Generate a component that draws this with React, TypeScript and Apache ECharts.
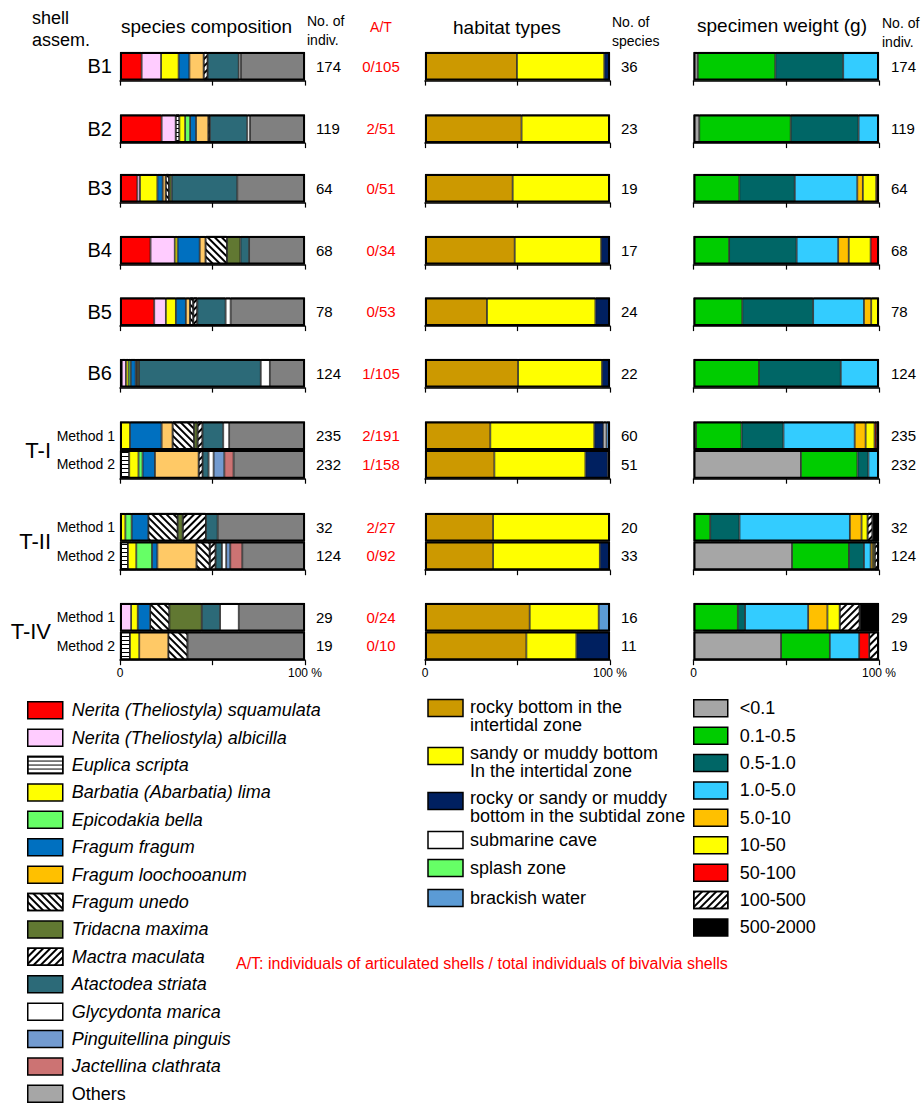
import { useEffect, useRef } from "react";
import * as echarts from "echarts";

// ---------------- rows ----------------
const rowLabels = ["B1", "B2", "B3", "B4", "B5", "B6", "Method 1", "Method 2", "Method 1", "Method 2", "Method 1", "Method 2"];
const groupRows = [[0], [1], [2], [3], [4], [5], [6, 7], [8, 9], [10, 11]];
const groupLabels = ["", "", "", "", "", "", "T-I", "T-II", "T-IV"];
const individuals = [174, 119, 64, 68, 78, 124, 235, 232, 32, 124, 29, 19];
const articulatedTotal = ["0/105", "2/51", "0/51", "0/34", "0/53", "1/105", "2/191", "1/158", "2/27", "0/92", "0/24", "0/10"];
const speciesCount = [36, 23, 19, 17, 24, 22, 60, 51, 20, 33, 16, 11];
const weightIndividuals = [174, 119, 64, 68, 78, 124, 235, 232, 32, 124, 29, 19];
const percentTicks = ["0", "", "100 %"];

// ---------------- species composition (%) ----------------
const neritaSquamulata = [11.7, 22.5, 9.4, 16.5, 18.5, 1.0, 0, 0, 0, 0, 0, 0];
const neritaAlbicilla = [10.5, 7.6, 1.4, 13.1, 6.3, 2.2, 0, 0, 0, 0, 6.0, 0];
const euplicaScripta = [0, 2.0, 0, 0, 0, 0, 0, 5.0, 0, 4.3, 0, 5.4];
const barbatiaLima = [9.5, 3.1, 9.4, 1.5, 5.4, 1.4, 5.4, 5.0, 2.9, 4.5, 3.6, 5.0];
const epicodakiaBella = [0, 2.7, 0, 0, 0, 1.2, 0, 2.2, 3.4, 8.5, 0, 0];
const fragumFragum = [5.8, 3.2, 2.9, 12.0, 5.4, 2.7, 17.1, 6.7, 9.0, 2.9, 6.7, 0];
const fragumLoochooanum = [7.7, 6.6, 1.6, 3.1, 2.2, 0.7, 5.9, 23.6, 0, 21.1, 0, 15.7];
const fragumUnedo = [0, 0, 1.8, 11.7, 1.8, 0, 11.7, 0, 15.9, 7.2, 10.4, 10.4];
const tridacnaMaxima = [0, 0, 1.4, 7.2, 0, 1.1, 1.8, 0, 2.7, 0, 17.5, 0];
const mactraMaculata = [2.2, 0.9, 0, 0, 2.2, 0, 2.7, 2.2, 12.6, 3.2, 0, 0];
const atactodeaStriata = [16.8, 20.2, 35.5, 4.7, 15.3, 65.8, 11.2, 3.2, 6.3, 3.4, 9.9, 0];
const glycydontaMarica = [1.2, 1.5, 0, 0, 2.7, 4.9, 3.2, 2.7, 0, 2.3, 10.1, 0];
const pinguitellinaPinguis = [0, 0, 0, 0, 0, 0, 0, 5.8, 0, 2.2, 0, 0];
const jactellinaClathrata = [0, 0, 0, 0, 0, 0, 0, 5.0, 0, 6.5, 0, 0];
const otherSpecies = [34.6, 29.7, 36.6, 30.2, 40.2, 19.0, 41.0, 38.6, 47.2, 33.9, 35.8, 63.5];

const speciesNames = [
  "Nerita (Theliostyla) squamulata",
  "Nerita (Theliostyla) albicilla",
  "Euplica scripta",
  "Barbatia (Abarbatia) lima",
  "Epicodakia bella",
  "Fragum fragum",
  "Fragum loochooanum",
  "Fragum unedo",
  "Tridacna maxima",
  "Mactra maculata",
  "Atactodea striata",
  "Glycydonta marica",
  "Pinguitellina pinguis",
  "Jactellina clathrata",
  "Others",
];
const speciesValues = [
  neritaSquamulata, neritaAlbicilla, euplicaScripta, barbatiaLima, epicodakiaBella,
  fragumFragum, fragumLoochooanum, fragumUnedo, tridacnaMaxima, mactraMaculata,
  atactodeaStriata, glycydontaMarica, pinguitellinaPinguis, jactellinaClathrata, otherSpecies,
];

// ---------------- habitat types (%) ----------------
const rockyIntertidal = [49.7, 52.2, 47.4, 48.5, 33.5, 50.3, 35.3, 37.5, 36.8, 36.8, 56.6, 54.8];
const sandyIntertidal = [47.2, 47.8, 52.6, 46.7, 58.6, 45.4, 56.2, 49.2, 63.2, 57.7, 37.3, 27.0];
const subtidal = [3.1, 0, 0, 4.8, 7.9, 4.3, 5.0, 12.1, 0, 5.5, 0, 18.2];
const submarineCave = [0, 0, 0, 0, 0, 0, 1.5, 0, 0, 0, 0, 0];
const splashZone = [0, 0, 0, 0, 0, 0, 0, 1.2, 0, 0, 0, 0];
const brackishWater = [0, 0, 0, 0, 0, 0, 2.0, 0, 0, 0, 6.1, 0];

const habitatNames = [
  "rocky bottom in the intertidal zone",
  "sandy or muddy bottom In the intertidal zone",
  "rocky or sandy or muddy bottom in the subtidal zone",
  "submarine cave",
  "splash zone",
  "brackish water",
];
const habitatLegendLines = [
  "rocky bottom in the\nintertidal zone",
  "sandy or muddy bottom\nIn the intertidal zone",
  "rocky or sandy or muddy\nbottom in the subtidal zone",
  "submarine cave",
  "splash zone",
  "brackish water",
];
const habitatValues = [rockyIntertidal, sandyIntertidal, subtidal, submarineCave, splashZone, brackishWater];

// ---------------- specimen weight (%) ----------------
const wLt01 = [2.3, 3.1, 0, 0, 0, 0, 1.4, 57.9, 0, 53.1, 0, 47.2];
const w01to05 = [41.8, 49.3, 24.7, 19.2, 26.3, 35.3, 24.5, 30.5, 9.0, 30.7, 23.9, 26.3];
const w05to10 = [36.6, 36.6, 29.9, 36.4, 38.2, 44.1, 22.6, 5.9, 15.8, 8.1, 3.9, 0];
const w10to50 = [19.3, 11.0, 33.7, 22.4, 27.4, 20.6, 38.4, 5.7, 59.5, 3.6, 34.0, 15.8];
const w50to10 = [0, 0, 3.0, 5.7, 3.9, 0, 5.9, 0, 6.3, 1.3, 10.4, 0];
const w10to50g = [0, 0, 7.2, 11.8, 4.2, 0, 4.8, 0, 3.2, 0.9, 6.6, 0];
const w50to100 = [0, 0, 1.5, 4.5, 0, 0, 1.0, 0, 0, 0, 0, 5.4];
const w100to500 = [0, 0, 0, 0, 0, 0, 1.4, 0, 2.7, 2.3, 10.8, 5.3];
const w500to2000 = [0, 0, 0, 0, 0, 0, 0, 0, 3.5, 0, 10.4, 0];

const weightNames = ["<0.1", "0.1-0.5", "0.5-1.0", "1.0-5.0", "5.0-10", "10-50", "50-100", "100-500", "500-2000"];
const weightValues = [wLt01, w01to05, w05to10, w10to50, w50to10, w10to50g, w50to100, w100to500, w500to2000];

// ---------------- styles ----------------
const FONT = "'Liberation Sans', Arial, Helvetica, sans-serif";
const NARROW = "'Liberation Sans Narrow', 'Liberation Sans', Arial, sans-serif";

const stripeHoriz = { symbol: "rect", symbolSize: 1, dashArrayX: [1, 0], dashArrayY: [1, 2.6], rotation: 0, color: "#000" };
const stripeBack = { symbol: "rect", symbolSize: 1, dashArrayX: [1, 0], dashArrayY: [2, 2.2], rotation: Math.PI / 4, color: "#000" };
const stripeFwd = { symbol: "rect", symbolSize: 1, dashArrayX: [1, 0], dashArrayY: [2, 2.2], rotation: -Math.PI / 4, color: "#000" };

const speciesStyles: any[] = [
  { color: "#FF0000" },
  { color: "#FFCCFF" },
  { color: "#FFFFFF", decal: stripeHoriz },
  { color: "#FFFF00" },
  { color: "#66FF66" },
  { color: "#0070C0" },
  { color: "#FFC966", legend: "#FFC000" },
  { color: "#FFFFFF", decal: stripeBack },
  { color: "#617832" },
  { color: "#FFFFFF", decal: stripeFwd },
  { color: "#2C6A78" },
  { color: "#FFFFFF" },
  { color: "#739BD0" },
  { color: "#CC7373" },
  { color: "#808080", legend: "#A6A6A6" },
];
const habitatColors = ["#CC9900", "#FFFF00", "#002060", "#FFFFFF", "#66FF66", "#5B9BD5"];
const weightStyles: any[] = [
  { color: "#A6A6A6" },
  { color: "#00CC00" },
  { color: "#006666" },
  { color: "#33CCFF" },
  { color: "#FFC000" },
  { color: "#FFFF00" },
  { color: "#FF0000" },
  { color: "#FFFFFF", decal: stripeFwd },
  { color: "#000000" },
];

// ---------------- layout ----------------
const panelLeft = [120, 425, 693.5];
const panelWidth = [185, 185, 185.5];
const groupTop = [52, 114.5, 174, 236, 297.5, 359, 421.5, 513, 603];
const ROW_H = 28.6;

function buildOption() {
  const grid: any[] = [];
  const xAxis: any[] = [];
  const yAxis: any[] = [];
  const series: any[] = [];

  const panels = [
    { names: speciesNames, values: speciesValues, styles: speciesStyles },
    { names: habitatNames, values: habitatValues, styles: habitatColors.map((c) => ({ color: c })) },
    { names: weightNames, values: weightValues, styles: weightStyles },
  ];

  panels.forEach((p, pi) => {
    groupRows.forEach((rows, gi) => {
      const gIdx = grid.length;
      const isLast = gi === groupRows.length - 1;
      const cats = rows.map((r) => rowLabels[r]);
      grid.push({ left: panelLeft[pi], top: groupTop[gi], width: panelWidth[pi], height: rows.length * ROW_H });
      xAxis.push({
        gridIndex: gIdx,
        type: "value",
        min: 0,
        max: 100,
        interval: 50,
        axisLine: { show: true, lineStyle: { color: "#000", width: 1.5 } },
        axisTick: { show: true, length: 5, lineStyle: { color: "#000", width: 1.2 } },
        splitLine: { show: false },
        axisLabel: {
          show: isLast,
          fontSize: 12,
          color: "#000",
          margin: 7,
          showMinLabel: true,
          showMaxLabel: true,
          formatter: (v: number) => percentTicks[Math.round(v / 50)] ?? "",
        },
      });
      let yIdx: number;
      if (pi === 0) {
        yIdx = yAxis.length;
        yAxis.push({
          gridIndex: gIdx,
          type: "category",
          data: cats,
          inverse: true,
          position: "left",
          axisLine: { show: false },
          axisTick: { show: false },
          axisLabel: {
            interval: 0,
            fontSize: rows.length === 1 ? 20 : 14,
            margin: rows.length === 1 ? 8 : 5,
            color: "#000",
          },
          name: groupLabels[gi],
          nameLocation: "middle",
          nameRotate: 0,
          nameGap: 69,
          nameTextStyle: { fontSize: 22, color: "#000", fontFamily: FONT },
        });
        yAxis.push({
          gridIndex: gIdx,
          type: "category",
          data: cats,
          inverse: true,
          position: "right",
          axisLine: { show: false },
          axisTick: { show: false },
          axisLabel: {
            interval: 0,
            margin: 11,
            color: "#000",
            formatter: (_v: string, i: number) => `{n|${individuals[rows[i]]}}{a|${articulatedTotal[rows[i]]}}`,
            rich: {
              n: { fontSize: 15, width: 42, color: "#000", fontFamily: FONT },
              a: { fontSize: 15, width: 46, align: "center", color: "#FF0000", fontFamily: FONT },
            },
          },
        });
      } else {
        yIdx = yAxis.length;
        const nums = pi === 1 ? speciesCount : weightIndividuals;
        yAxis.push({
          gridIndex: gIdx,
          type: "category",
          data: cats,
          inverse: true,
          position: "right",
          axisLine: { show: false },
          axisTick: { show: false },
          axisLabel: {
            interval: 0,
            fontSize: 15,
            margin: pi === 1 ? 11 : 12,
            color: "#000",
            formatter: (_v: string, i: number) => String(nums[rows[i]]),
          },
        });
      }

      p.names.forEach((name, ci) => {
        const st = p.styles[ci];
        const itemStyle: any = { color: st.color, borderColor: "#1a1a1a", borderWidth: 0.8 };
        if (st.decal) itemStyle.decal = st.decal;
        series.push({
          type: "bar",
          name,
          stack: "g" + gIdx,
          xAxisIndex: gIdx,
          yAxisIndex: yIdx,
          data: rows.map((r) => (p.values[ci][r] > 0 ? p.values[ci][r] : null)),
          barCategoryGap: "0%",
          barGap: "-100%",
          itemStyle,
          silent: true,
          emphasis: { disabled: true },
        });
      });
      series.push({
        type: "bar",
        name: "outline",
        xAxisIndex: gIdx,
        yAxisIndex: yIdx,
        data: rows.map(() => 100),
        barCategoryGap: "0%",
        barGap: "-100%",
        itemStyle: { color: "rgba(0,0,0,0)", borderColor: "#000", borderWidth: 2 },
        z: 10,
        silent: true,
        emphasis: { disabled: true },
      });
    });
  });

  const legend: any[] = [
    {
      data: speciesNames.map((n, i) =>
        speciesStyles[i].legend ? { name: n, itemStyle: { color: speciesStyles[i].legend } } : { name: n }
      ),
      orient: "vertical",
      left: 27,
      top: 701,
      height: 460,
      padding: 0,
      itemWidth: 35,
      itemHeight: 17,
      itemGap: 8.9,
      icon: "rect",
      selectedMode: false,
      itemStyle: { borderColor: "#000", borderWidth: 1.5 },
      formatter: (name: string) => (name === "Others" ? `{n|${name}}` : `{i|${name}}`),
      textStyle: {
        fontSize: 18,
        lineHeight: 18,
        color: "#000",
        fontFamily: FONT,
        rich: {
          i: { fontStyle: "italic", fontSize: 18, lineHeight: 18, padding: [0, 0, 0, 4], fontFamily: FONT },
          n: { fontSize: 18, lineHeight: 18, padding: [0, 0, 0, 4], fontFamily: FONT },
        },
      },
    },
    {
      data: weightNames,
      orient: "vertical",
      left: 693,
      top: 699,
      padding: 0,
      itemWidth: 34,
      itemHeight: 17,
      itemGap: 8.9,
      icon: "rect",
      selectedMode: false,
      itemStyle: { borderColor: "#000", borderWidth: 1.5 },
      formatter: (name: string) => `{n|${name}}`,
      textStyle: {
        fontSize: 18,
        lineHeight: 18,
        color: "#000",
        fontFamily: FONT,
        rich: { n: { fontSize: 18, lineHeight: 18, padding: [0, 0, 0, 7], fontFamily: FONT } },
      },
    },
  ];

  // habitat legend drawn as graphic (multi-line entries)
  const habIconY = [708, 756, 801, 840, 868, 898];
  const habTextTop = [698, 744, 789, 831, 859, 889];
  const graphic: any[] = [];
  habitatLegendLines.forEach((label, i) => {
    graphic.push({
      type: "rect",
      shape: { x: 428, y: habIconY[i] - 8.5, width: 35, height: 17 },
      style: { fill: habitatColors[i], stroke: "#000", lineWidth: 1.5 },
      silent: true,
    });
    graphic.push({
      type: "text",
      x: 470,
      y: habTextTop[i],
      style: { text: label, fontSize: 18, lineHeight: 18, fontFamily: FONT, fill: "#000", verticalAlign: "top" },
      silent: true,
    });
  });

  const headerText = (text: string, x: number, y: number, size: number, extra: any = {}) => ({
    type: "text",
    x,
    y,
    silent: true,
    style: { text, fontSize: size, fontFamily: FONT, fill: "#000", verticalAlign: "middle", ...extra },
  });
  graphic.push(headerText("shell\nassem.", 32, 29, 18, { lineHeight: 22 }));
  graphic.push(headerText("species composition", 121, 26, 19));
  graphic.push(headerText("No. of\nindiv.", 307, 30, 14, { lineHeight: 19, fontFamily: NARROW }));
  graphic.push(headerText("A/T", 381, 27, 14, { fill: "#FF0000", align: "center" }));
  graphic.push(headerText("habitat types", 453, 27, 19));
  graphic.push(headerText("No. of\nspecies", 612, 31, 14, { lineHeight: 19, fontFamily: NARROW }));
  graphic.push(headerText("specimen weight (g)", 697, 25, 19));
  graphic.push(headerText("No. of\nindiv.", 882, 32, 14, { lineHeight: 19, fontFamily: NARROW }));
  graphic.push(
    headerText("A/T: individuals of articulated shells / total individuals of bivalvia shells", 236, 963, 16, {
      fill: "#FF0000",
    })
  );

  return {
    animation: false,
    backgroundColor: "#ffffff",
    textStyle: { fontFamily: FONT },
    grid,
    xAxis,
    yAxis,
    series,
    legend,
    graphic,
  };
}

export default function App() {
  const ref = useRef<HTMLDivElement>(null);
  useEffect(() => {
    document.body.style.margin = "0";
    if (!ref.current) return;
    const chart = echarts.init(ref.current, undefined, { renderer: "svg" });
    chart.setOption(buildOption() as any);
    return () => chart.dispose();
  }, []);
  return <div ref={ref} style={{ width: 921, height: 1103 }} />;
}
